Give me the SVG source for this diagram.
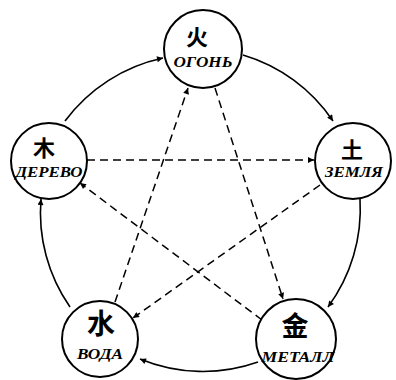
<svg xmlns="http://www.w3.org/2000/svg" width="396" height="380" viewBox="0 0 396 380">
<style>
.node circle{fill:#fff;stroke:#000;stroke-width:2}
.ch{font-family:"Noto Sans CJK SC","Noto Sans CJK JP",sans-serif;font-weight:bold;text-anchor:middle;fill:#000}
.lb{font-family:"Liberation Serif",serif;font-weight:bold;font-style:italic;font-size:14px;text-anchor:middle;fill:#000}
.arc{fill:none;stroke:#000;stroke-width:1.6;marker-end:url(#ah)}
.dash{fill:none;stroke:#000;stroke-width:1.5;stroke-dasharray:8 5;marker-end:url(#ah)}
</style>
<defs>
<marker id="ah" viewBox="0 0 10 10" refX="10" refY="5" markerWidth="11" markerHeight="6" markerUnits="userSpaceOnUse" orient="auto">
<path d="M0,0 L10,5 L0,10 z" fill="#000"/>
</marker>
</defs>
<g id="connectors">
<path class="arc" d="M65,121 A165,165 0 0,1 163,58"/>
<path class="arc" d="M243,55 A165,165 0 0,1 333,121"/>
<path class="arc" d="M360,199 A165,165 0 0,1 328,307"/>
<path class="arc" d="M258,362 A165,165 0 0,1 140,359"/>
<path class="arc" d="M70,307 A165,165 0 0,1 41,199"/>
<path class="dash" d="M87,160 L314,160"/>
<path class="dash" d="M215,88 L283,299"/>
<path class="dash" d="M320,185 L133,318"/>
<path class="dash" d="M115,302 L188,88"/>
<path class="dash" d="M262,320 L80,183"/>
</g>
<g id="fire" class="node">
<circle cx="203" cy="49" r="39"/>
<text class="ch" x="197" y="45" font-size="22">火</text>
<text class="lb" x="203" y="67" textLength="59" lengthAdjust="spacingAndGlyphs">ОГОНЬ</text>
</g>
<g id="wood" class="node">
<circle cx="49" cy="161" r="38"/>
<text class="ch" x="44" y="156" font-size="22">木</text>
<text class="lb" x="49" y="177" textLength="67" lengthAdjust="spacingAndGlyphs">ДЕРЕВО</text>
</g>
<g id="earth" class="node">
<circle cx="353" cy="161" r="38"/>
<text class="ch" x="352" y="158" font-size="22">土</text>
<text class="lb" x="354" y="177" textLength="58" lengthAdjust="spacingAndGlyphs">ЗЕМЛЯ</text>
</g>
<g id="water" class="node">
<circle cx="100" cy="339" r="38"/>
<text class="ch" x="101" y="334" font-size="28">水</text>
<text class="lb" x="100" y="359" textLength="46" lengthAdjust="spacingAndGlyphs">ВОДА</text>
</g>
<g id="metal" class="node">
<circle cx="296" cy="339" r="40"/>
<text class="ch" x="295" y="336" font-size="27">金</text>
<text class="lb" x="298" y="362" textLength="73" lengthAdjust="spacingAndGlyphs">МЕТАЛЛ</text>
</g>
</svg>
